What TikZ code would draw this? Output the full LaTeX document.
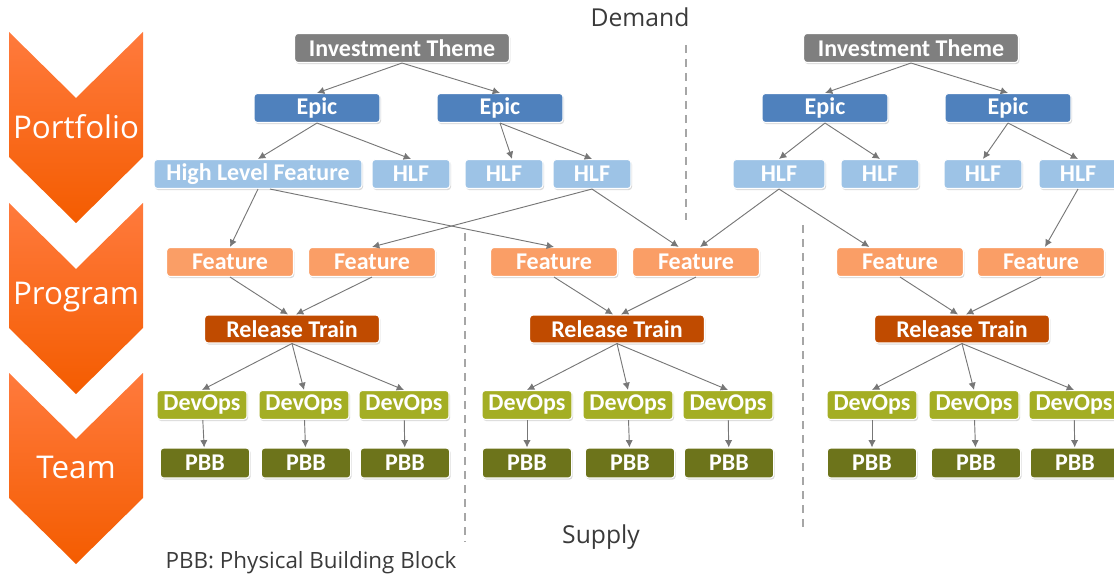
\documentclass[tikz,border=0pt]{standalone}
\usepackage{fontspec}
\setmainfont{Open Sans}
\newfontfamily\boxfont{Carlito}
\usetikzlibrary{positioning, arrows.meta, shadows}

\definecolor{themegray}{HTML}{7F7F7F}
\definecolor{epicblue}{HTML}{4F81BD}
\definecolor{hlfblue}{HTML}{9DC3E6}
\definecolor{featorange}{HTML}{FA9E66}
\definecolor{trainorange}{HTML}{C04B00}
\definecolor{devgreen}{HTML}{A4AE24}
\definecolor{pbbgreen}{HTML}{6D741B}
\definecolor{arrowgray}{HTML}{777777}
\definecolor{chevtop}{HTML}{FF7A3D}
\definecolor{chevmid}{HTML}{FF6204}
\definecolor{chevbot}{HTML}{F45C00}
\definecolor{sepgray}{HTML}{A6A6A6}
\definecolor{textgray}{HTML}{3A3A3A}

\begin{document}
\begin{tikzpicture}[
    x=0.75pt, y=-0.75pt, % one unit = one pixel of the sketch
    ->,
    >={Latex[length=5.5pt,width=5.5pt]}, % small grey heads
    every edge/.style={draw=arrowgray, line width=0.7pt},
    box/.style={rectangle, rounded corners=2.5pt, draw=white, line width=0.8pt,
        text=white, inner sep=0pt, minimum height=21.75pt,
        font=\boxfont\bfseries\fontsize{18}{20}\selectfont,
        drop shadow={shadow xshift=0.8pt, shadow yshift=-1.2pt, opacity=0.3}},
    theme/.style={box, fill=themegray, minimum width=161pt},
    epic/.style={box, fill=epicblue, minimum width=94.5pt},
    hlf/.style={box, fill=hlfblue, minimum width=58.5pt},
    feature/.style={box, fill=featorange, minimum width=95pt},
    train/.style={box, fill=trainorange, minimum width=131pt, minimum height=21pt},
    devops/.style={box, fill=devgreen, minimum width=67.5pt},
    pbb/.style={box, fill=pbbgreen, minimum width=67pt, minimum height=22.5pt},
    chevtext/.style={text=white, font=\fontsize{23.5}{27}\selectfont},
    plaintext/.style={text=textgray, font=\fontsize{18.5}{22}\selectfont},
    sepline/.style={-, draw=sepgray, line width=1.5pt, dash pattern=on 6pt off 4.5pt}
]
\useasboundingbox (0,0) rectangle (1114,574);

% Level chevrons
\shade[-, top color=chevtop, middle color=chevmid, bottom color=chevbot] (9,32) -- (76,98) -- (143,32) -- (143,157) -- (76,223) -- (9,157) -- cycle;
\shade[-, top color=chevtop, middle color=chevmid, bottom color=chevbot] (9,203) -- (76,269) -- (143,203) -- (143,328) -- (76,394) -- (9,328) -- cycle;
\shade[-, top color=chevtop, middle color=chevmid, bottom color=chevbot] (9,373) -- (76,439) -- (143,373) -- (143,498) -- (76,564) -- (9,498) -- cycle;
\node[chevtext] (portfolio) at (76,127) {Portfolio};
\node[chevtext] (program) at (76,297) {Program};
\node[chevtext] (team) at (76,467) {Team};

% Separators
\draw[sepline] (686,45) -- (686,220);
\draw[sepline] (465,233) -- (465,542);
\draw[sepline] (803,225) -- (803,533);

% Texts
\node[plaintext] (demand) at (640,17) {Demand};
\node[plaintext] (supply) at (601,537) {Supply};
\node[plaintext, anchor=west, font=\fontsize{16.8}{20}\selectfont] (legend) at (161,563) {PBB: Physical Building Block};

% Nodes
\node[theme] (IT1) at (402,48) {Investment Theme};
\node[theme] (IT2) at (911,48) {Investment Theme};

\node[epic] (E1) at (317,108) {Epic};
\node[epic] (E2) at (500,108) {Epic};
\node[epic] (E3) at (825,108) {Epic};
\node[epic] (E4) at (1008,108) {Epic};

\node[hlf, minimum width=156pt] (H1) at (258,174) {High Level Feature};
\node[hlf] (H2) at (411,174) {HLF};
\node[hlf] (H3) at (504,174) {HLF};
\node[hlf] (H4) at (592,174) {HLF};
\node[hlf, minimum width=69pt] (H5) at (779,174) {HLF};
\node[hlf] (H6) at (880,174) {HLF};
\node[hlf] (H7) at (983,174) {HLF};
\node[hlf] (H8) at (1078,174) {HLF};

\node[feature] (F1) at (230,262) {Feature};
\node[feature] (F2) at (372,262) {Feature};
\node[feature] (F3) at (554,262) {Feature};
\node[feature] (F4) at (696,262) {Feature};
\node[feature] (F5) at (900,262) {Feature};
\node[feature] (F6) at (1041,262) {Feature};

\node[train] (R1) at (292,329) {Release Train};
\node[train] (R2) at (617,329) {Release Train};
\node[train] (R3) at (962,329) {Release Train};

\node[devops] (D1) at (202,405) {DevOps};
\node[devops] (D2) at (304,405) {DevOps};
\node[devops] (D3) at (404,405) {DevOps};
\node[devops] (D4) at (527,405) {DevOps};
\node[devops] (D5) at (628,405) {DevOps};
\node[devops] (D6) at (728,405) {DevOps};
\node[devops] (D7) at (872,405) {DevOps};
\node[devops] (D8) at (974,405) {DevOps};
\node[devops] (D9) at (1074,405) {DevOps};

\node[pbb] (P1) at (205,463) {PBB};
\node[pbb] (P2) at (306,463) {PBB};
\node[pbb] (P3) at (405,463) {PBB};
\node[pbb] (P4) at (527,463) {PBB};
\node[pbb] (P5) at (630,463) {PBB};
\node[pbb] (P6) at (729,463) {PBB};
\node[pbb] (P7) at (872,463) {PBB};
\node[pbb] (P8) at (976,463) {PBB};
\node[pbb] (P9) at (1075,463) {PBB};

% Edges
\path (IT1.south) edge (E1.north);
\path (IT1.south) edge (E2.north);
\path (IT2.south) edge (E3.north);
\path (IT2.south) edge (E4.north);

\path (E1.south) edge (H1.north);
\path (E1.south) edge (H2.north);
\path (E2.south) edge ([xshift=6pt]H3.north);
\path (E2.south) edge (H4.north);
\path (E3.south) edge (H5.north);
\path (E3.south) edge (H6.north);
\path (E4.south) edge (H7.north);
\path (E4.south) edge (H8.north);

\path (H1.south) edge (F1.north);
\path ([xshift=9pt]H1.south) edge (F3.north);
\path (H4.south) edge (F2.north);
\path (H4.south) edge ([xshift=-13pt]F4.north);
\path (H5.south) edge ([xshift=3pt]F4.north);
\path (H5.south) edge ([xshift=-23pt]F5.north);
\path (H8.south) edge ([xshift=3pt]F6.north);

\path (F1.south) edge ([xshift=-3pt]R1.north);
\path (F2.south) edge ([xshift=3pt]R1.north);
\path (F3.south) edge ([xshift=-3pt]R2.north);
\path (F4.south) edge ([xshift=3pt]R2.north);
\path (F5.south) edge ([xshift=-3pt]R3.north);
\path (F6.south) edge ([xshift=3pt]R3.north);

\path (R1.south) edge (D1.north);
\path (R1.south) edge (D2.north);
\path (R1.south) edge (D3.north);
\path (R2.south) edge (D4.north);
\path (R2.south) edge (D5.north);
\path (R2.south) edge (D6.north);
\path (R3.south) edge (D7.north);
\path (R3.south) edge (D8.north);
\path (R3.south) edge (D9.north);

\path (D1) edge (P1);
\path (D2) edge (P2);
\path (D3) edge (P3);
\path (D4) edge (P4);
\path (D5) edge (P5);
\path (D6) edge (P6);
\path (D7) edge (P7);
\path (D8) edge (P8);
\path (D9) edge (P9);

\end{tikzpicture}
\end{document}
